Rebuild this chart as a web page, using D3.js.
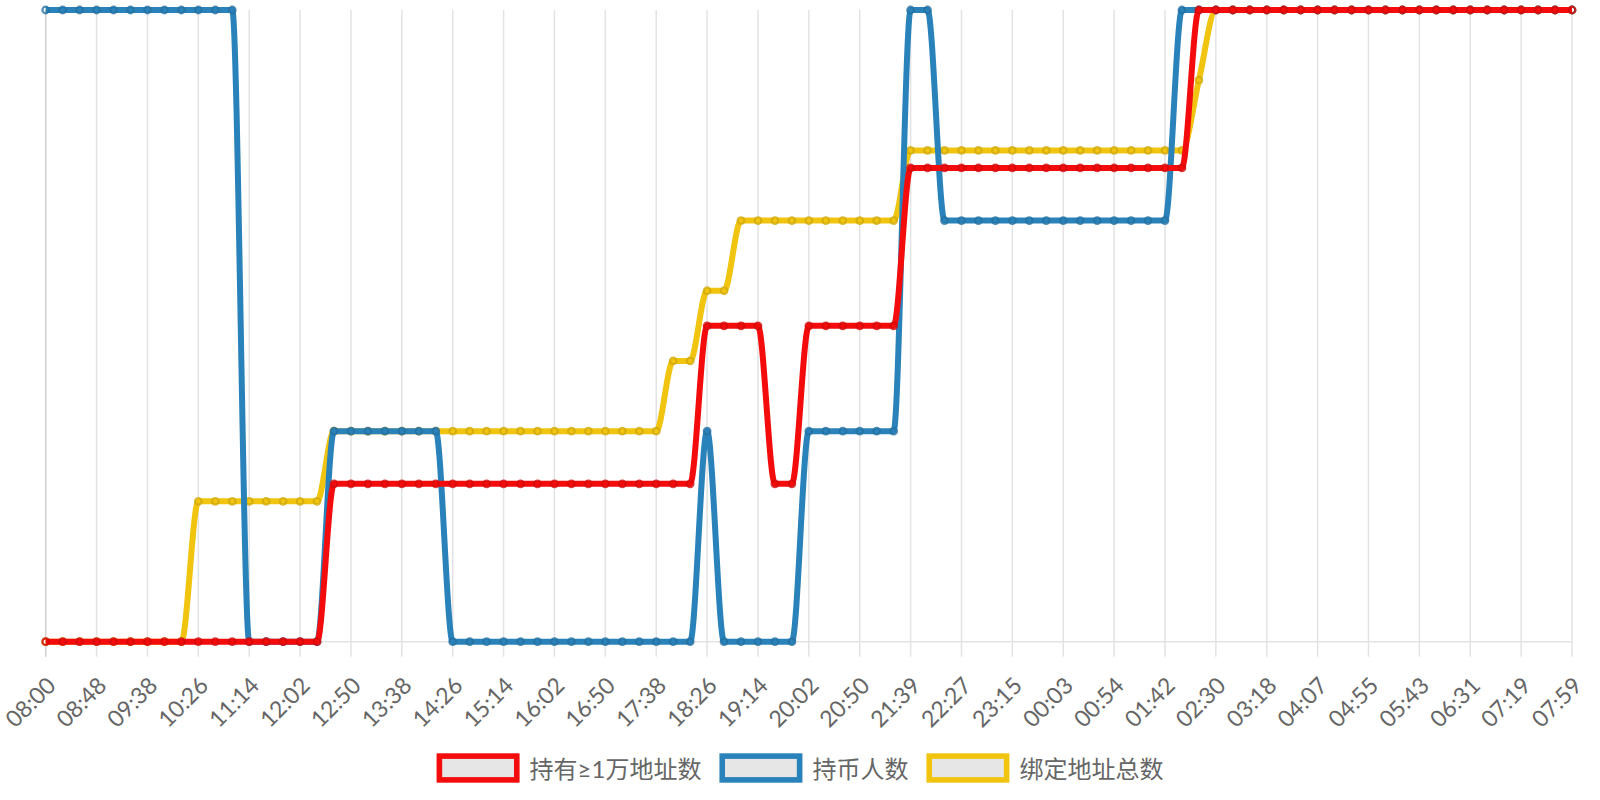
<!DOCTYPE html>
<html>
<head>
<meta charset="utf-8">
<script src="https://cdn.jsdelivr.net/npm/d3@7"></script>
<style>
  html, body { margin: 0; padding: 0; background: #fff; }
  svg { display: block; }
</style>
</head>
<body>
<svg id="chart" width="1600" height="800"></svg>
<script>
// ---- data ----
const tickLabels = ["08:00","08:48","09:38","10:26","11:14","12:02","12:50","13:38","14:26","15:14",
  "16:02","16:50","17:38","18:26","19:14","20:02","20:50","21:39","22:27","23:15",
  "00:03","00:54","01:42","02:30","03:18","04:07","04:55","05:43","06:31","07:19","07:59"];
const pointsPerTick = 3;

const seriesNames = ["持有≥1万地址数", "持币人数", "绑定地址总数"];
const seriesColors = ["#f40c0c", "#2a82ba", "#f1c40f"];

// levels (each series drawn on its own hidden axis)
const redValues = [
  0,0,0,0,0,0,0,0,0,0,
  0,0,0,0,0,0,0,1,1,1,
  1,1,1,1,1,1,1,1,1,1,
  1,1,1,1,1,1,1,1,1,2,
  2,2,2,1,1,2,2,2,2,2,
  2,3,3,3,3,3,3,3,3,3,
  3,3,3,3,3,3,3,3,4,4,
  4,4,4,4,4,4,4,4,4,4,
  4,4,4,4,4,4,4,4,4,4,
  4];
const blueValues = [
  3,3,3,3,3,3,3,3,3,3,
  3,3,0,0,0,0,0,1,1,1,
  1,1,1,1,0,0,0,0,0,0,
  0,0,0,0,0,0,0,0,0,1,
  0,0,0,0,0,1,1,1,1,1,
  1,3,3,2,2,2,2,2,2,2,
  2,2,2,2,2,2,2,3,3,3,
  3,3,3,3,3,3,3,3,3,3,
  3,3,3,3,3,3,3,3,3,3,
  3];
const yellowValues = [
  0,0,0,0,0,0,0,0,0,2,
  2,2,2,2,2,2,2,3,3,3,
  3,3,3,3,3,3,3,3,3,3,
  3,3,3,3,3,3,3,4,4,5,
  5,6,6,6,6,6,6,6,6,6,
  6,7,7,7,7,7,7,7,7,7,
  7,7,7,7,7,7,7,7,8,9,
  9,9,9,9,9,9,9,9,9,9,
  9,9,9,9,9,9,9,9,9,9,
  9];

const allSeries = [redValues, blueValues, yellowValues];

// ---- layout ----
const svg = d3.select("#chart");
const plotLeft = 45.7, plotRight = 1572, plotTop = 10, plotBottom = 641.7;
const nPoints = redValues.length;

const x = d3.scaleLinear().domain([0, nPoints - 1]).range([plotLeft, plotRight]);
const yScales = allSeries.map(v => d3.scaleLinear().domain([d3.min(v), d3.max(v)]).range([plotBottom, plotTop]));

const fontLatin = "Lato, 'Noto Sans CJK SC', sans-serif";

// vertical grid lines + ticks
const tickIdx = tickLabels.map((_, i) => i * pointsPerTick);
const grid = svg.append("g");
grid.selectAll("line.v").data(tickIdx).join("line")
  .attr("x1", d => x(d)).attr("x2", d => x(d))
  .attr("y1", plotTop).attr("y2", plotBottom + 15)
  .attr("stroke", (d, i) => i === 0 ? "#cfcfcf" : "#e3e3e3")
  .attr("stroke-width", 1.5);
// x axis base line
grid.append("line")
  .attr("x1", plotLeft).attr("x2", plotRight)
  .attr("y1", plotBottom).attr("y2", plotBottom)
  .attr("stroke", "#e3e3e3").attr("stroke-width", 1.5);

// tick labels
svg.append("g").selectAll("text").data(tickIdx).join("text")
  .attr("transform", d => `translate(${x(d) + 5},${plotBottom + 39}) rotate(-45)`)
  .attr("text-anchor", "end")
  .attr("dominant-baseline", "central")
  .attr("font-family", fontLatin)
  .attr("font-size", 23)
  .attr("fill", "#666")
  .text((d, i) => tickLabels[i]);

// lines (draw yellow, blue, red so red is on top)
const order = [2, 1, 0];
order.forEach(si => {
  const vals = allSeries[si];
  const y = yScales[si];
  const line = d3.line().x((d, i) => x(i)).y(d => y(d)).curve(d3.curveMonotoneX);
  const g = svg.append("g");
  g.append("path").datum(vals)
    .attr("d", line)
    .attr("fill", "none")
    .attr("stroke", seriesColors[si])
    .attr("stroke-width", 6)
    .attr("stroke-linejoin", "round");
  g.selectAll("circle").data(vals).join("circle")
    .attr("cx", (d, i) => x(i)).attr("cy", d => y(d))
    .attr("r", 3.3)
    .attr("fill", "none")
    .attr("stroke", d3.color(seriesColors[si]).darker(0.4))
    .attr("stroke-opacity", 0.8)
    .attr("stroke-width", 2.2);
});

// legend
const legend = svg.append("g");
const boxW = 83, boxH = 29.4, bw = 5.6, legendY = 753.3, gapText = 10, gapItem = 18;
const items = legend.selectAll("g").data(seriesNames).join("g");
items.append("rect")
  .attr("x", bw / 2).attr("y", legendY + bw / 2)
  .attr("width", boxW - bw).attr("height", boxH - bw)
  .attr("fill", "#e6e6e6")
  .attr("stroke", (d, i) => seriesColors[i])
  .attr("stroke-width", bw);
const texts = items.append("text")
  .attr("x", boxW + gapText).attr("y", legendY + boxH / 2)
  .attr("dominant-baseline", "central")
  .attr("font-family", fontLatin)
  .attr("font-size", 24)
  .attr("fill", "#666")
  .text(d => d);
const widths = [];
texts.each(function () { widths.push(this.getComputedTextLength()); });
const itemW = widths.map(w => boxW + gapText + w);
const total = d3.sum(itemW) + gapItem * (itemW.length - 1);
let cx = 800 - total / 2;
items.attr("transform", (d, i) => {
  const t = `translate(${cx},0)`;
  cx += itemW[i] + gapItem;
  return t;
});
</script>
</body>
</html>
